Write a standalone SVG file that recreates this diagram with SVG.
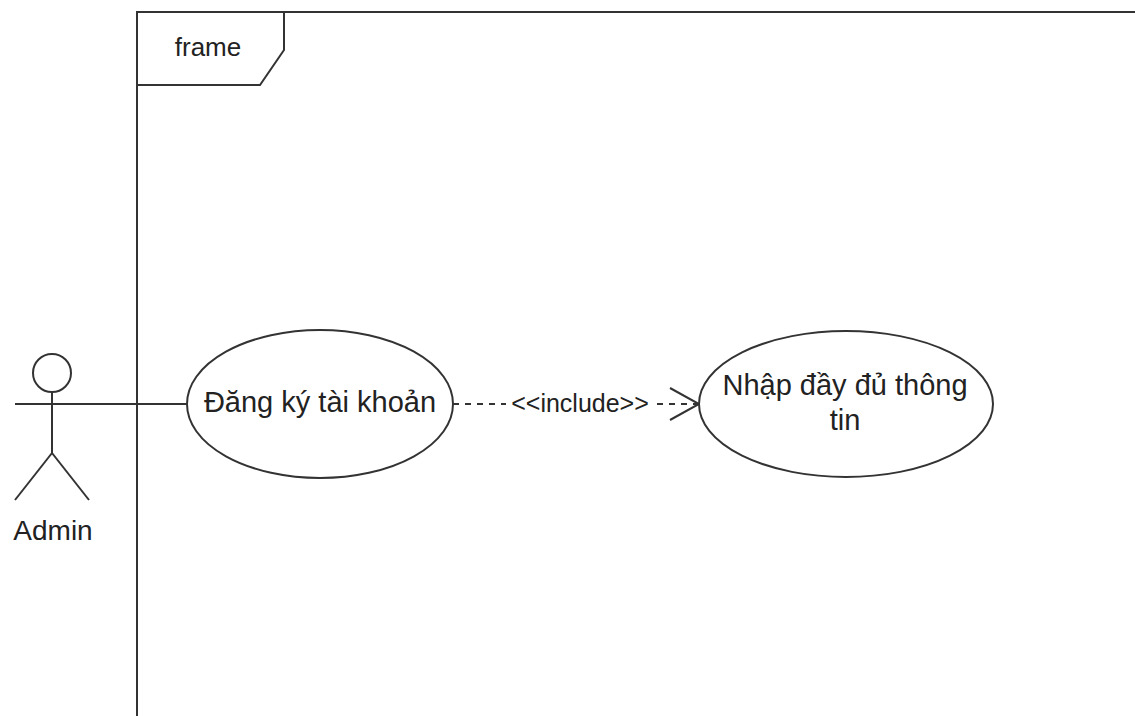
<svg xmlns="http://www.w3.org/2000/svg" width="1135" height="716" viewBox="0 0 1135 716">
<style>
.ln{fill:none;stroke:#333;stroke-width:2}
.uc{fill:#fff;stroke:#333;stroke-width:2}
.t{font-family:"Liberation Sans",Arial,sans-serif;fill:#222;text-anchor:middle}
</style>
<defs>
<marker id="open" markerWidth="36" markerHeight="36" refX="31" refY="17" orient="auto" markerUnits="userSpaceOnUse">
<path d="M2,1 L31,17 L2,33" fill="none" stroke="#333" stroke-width="2"/>
</marker>
</defs>
<rect width="1135" height="716" fill="#fff"/>
<g id="frame">
<path class="ln" d="M137,716 L137,12 L1135,12"/>
<path class="ln" d="M137,12 L284,12 L284,50 L260,85 L137,85"/>
<text class="t" x="208" y="56" font-size="26">frame</text>
</g>
<g id="connectors">
<line class="ln" x1="15" y1="404" x2="187" y2="404"/>
<line class="ln" x1="453" y1="404" x2="699" y2="404" stroke-dasharray="6,6" marker-end="url(#open)"/>
<rect x="506" y="392" width="148" height="24" fill="#fff"/>
<text class="t" x="580" y="412" font-size="25">&lt;&lt;include&gt;&gt;</text>
</g>
<g id="admin">
<circle class="ln" cx="52" cy="373" r="19"/>
<line class="ln" x1="52" y1="392" x2="52" y2="453"/>
<line class="ln" x1="52" y1="453" x2="15" y2="500"/>
<line class="ln" x1="52" y1="453" x2="89" y2="500"/>
<text class="t" x="53" y="540" font-size="28">Admin</text>
</g>
<g id="dangky">
<ellipse class="uc" cx="320" cy="404" rx="133" ry="74"/>
<text class="t" x="320" y="412" font-size="29">Đăng ký tài khoản</text>
</g>
<g id="nhap">
<ellipse class="uc" cx="846" cy="404" rx="147" ry="73"/>
<text class="t" x="845" y="395" font-size="29">Nhập đầy đủ thông</text>
<text class="t" x="845" y="430" font-size="29">tin</text>
</g>
</svg>
